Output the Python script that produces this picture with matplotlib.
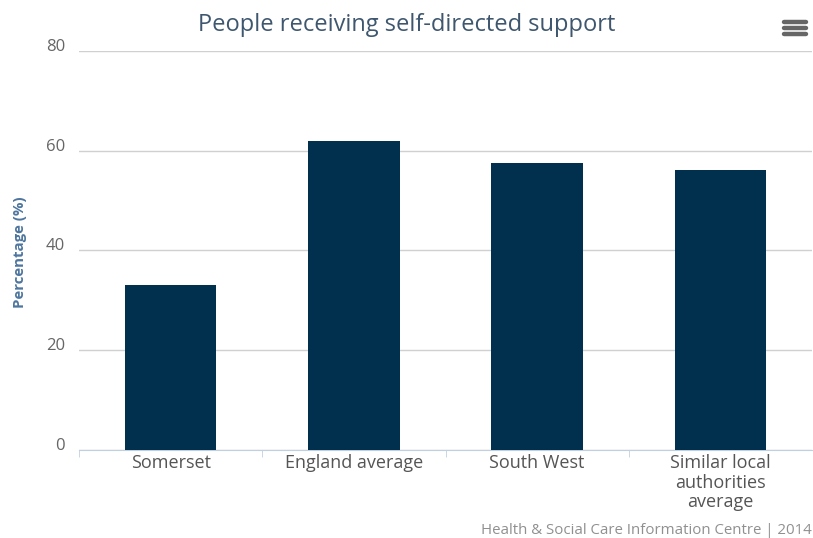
import matplotlib.pyplot as plt
import matplotlib.transforms as mtransforms
from matplotlib.lines import Line2D

categories = ["Somerset", "England average", "South West",
              "Similar local\nauthorities\naverage"]
values = [33.0, 61.9, 57.5, 56.2]
yticks = [0, 20, 40, 60, 80]

plt.rcParams['font.family'] = ['Open Sans', 'DejaVu Sans']

fig = plt.figure(figsize=(8.13, 5.38), dpi=100)
ax = fig.add_axes([79 / 813, 1 - 450 / 538, 733 / 813, 399 / 538])

ax.bar(range(len(categories)), values, width=0.5, color="#00304d", zorder=3)

ax.set_xlim(-0.5, len(categories) - 0.5)
ax.set_ylim(0, 80)
ax.set_yticks(yticks)
ax.set_xticks(range(len(categories)))
ax.set_xticklabels(categories, color="#555555", fontsize=13, linespacing=1.1)
ax.set_xticks([i - 0.5 for i in range(len(categories))], minor=True)
ax.tick_params(axis='x', which='major', length=0, pad=3)
ax.tick_params(axis='x', which='minor', length=5, color="#c0d0e0")
ax.tick_params(axis='y', length=0, pad=10, labelcolor="#666666", labelsize=12)
shift = mtransforms.ScaledTranslation(0, 4 / 100, fig.dpi_scale_trans)
for lbl in ax.get_yticklabels():
    lbl.set_verticalalignment('center')
    lbl.set_transform(lbl.get_transform() + shift)

ax.grid(axis='y', color="#d0d0d0", linewidth=1, zorder=0)
for s in ['top', 'right', 'left']:
    ax.spines[s].set_visible(False)
ax.spines['bottom'].set_color("#c0d0e0")

fig.text(0.5, 1 - 25 / 538, "People receiving self-directed support",
         ha='center', va='center', fontsize=17, color="#3e576f")
fig.text(20 / 813, 1 - 252 / 538, "Percentage (%)", rotation=90,
         ha='center', va='center', fontsize=10.8, fontweight='bold',
         color="#4d759e")
fig.text(812 / 813, 1 - 531 / 538, "Health & Social Care Information Centre | 2014",
         ha='right', va='center', fontsize=10.8, color="#909090")

# menu icon
for yy in [22, 28, 34]:
    fig.add_artist(Line2D([784 / 813, 806 / 813], [1 - yy / 538, 1 - yy / 538],
                          color="#666666", linewidth=3.2, solid_capstyle='round'))

fig.savefig("out.png", dpi=100)
